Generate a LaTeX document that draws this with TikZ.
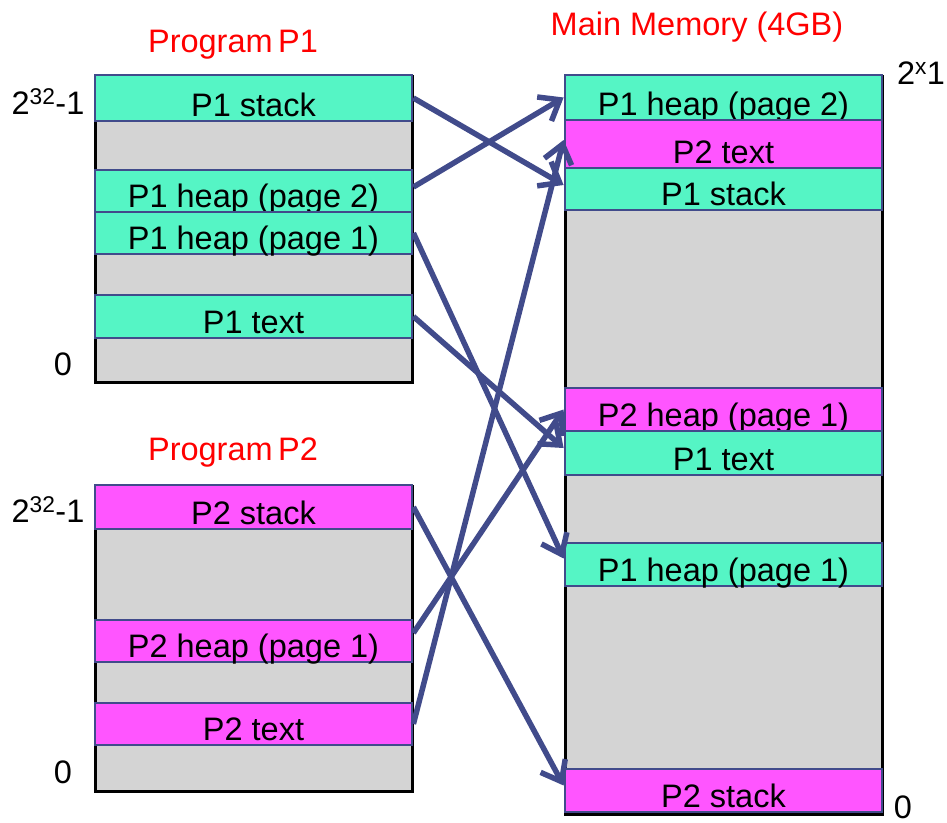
\documentclass[tikz,border=0pt]{standalone}
\usepackage{fontspec}
\setmainfont{Liberation Sans}
\usetikzlibrary{arrows.meta}

\definecolor{segteal}{HTML}{55F5C5}
\definecolor{segpink}{HTML}{FF55FF}
\definecolor{freegray}{HTML}{D4D4D4}
\definecolor{edgeblue}{HTML}{414B8B}
\definecolor{titlered}{HTML}{FF0000}

\newcommand{\bigtext}{\fontsize{32.5}{38}\selectfont}

\tikzset{
  cell/.style={draw=edgeblue, line width=2.8pt, rectangle, inner sep=0pt,
               minimum width=317pt},
  lbl/.style={anchor=base, yshift=6pt, inner sep=0pt, font=\bigtext},
  tcell/.style={cell, fill=segteal},
  pcell/.style={cell, fill=segpink},
  title/.style={anchor=base, inner sep=0pt, text=titlered, font=\bigtext},
  addr/.style={anchor=base, inner sep=0pt, font=\bigtext},
  column/.style={fill=freegray},
  colside/.style={draw=black, line width=3pt},
  map/.style={draw=edgeblue, line width=5.5pt,
              -{Straight Barb[length=18pt,width=28pt]}},
}

\begin{document}
\begin{tikzpicture}[x=1pt,y=-1pt]
\useasboundingbox (0,0) rectangle (947,822);

% ---- free space of the three address ranges
\fill[column] (95,75) rectangle (412,382);
\draw[colside] (95,75) -- (95,382) -- (412,382) -- (412,75);
\fill[column] (95,485) rectangle (412,791);
\draw[colside] (95,485) -- (95,791) -- (412,791) -- (412,485);
\fill[column] (565,75) rectangle (882,814);
\draw[colside] (565,75) -- (565,814) -- (882,814) -- (882,75);

% ---- titles and address marks
\node[title] (t1) at (233,52) {Program\,P1};
\node[title] (t2) at (233,460) {Program\,P2};
\node[title] (tm) at (697,35) {Main Memory (4GB)};

\node[addr] (a1hi) at (48,114) {2\textsuperscript{32}-1};
\node[addr] (a1lo) at (63,375) {0};
\node[addr] (a2hi) at (48,522) {2\textsuperscript{32}-1};
\node[addr] (a2lo) at (63,783) {0};
\node[addr] (amhi) at (921,84) {2\textsuperscript{x}1};
\node[addr] (amlo) at (903,818) {0};

% ---- program P1 address space
\node[tcell, minimum height=46pt, label={[lbl]south:P1 stack}] (p1stack) at (253.5,98) {};
\node[tcell, minimum height=42pt, label={[lbl]south:P1 heap (page 2)}] (p1heapB) at (253.5,191) {};
\node[tcell, minimum height=42pt, label={[lbl]south:P1 heap (page 1)}] (p1heapA) at (253.5,233) {};
\node[tcell, minimum height=43pt, label={[lbl]south:P1 text}] (p1text) at (253.5,316.5) {};

% ---- program P2 address space
\node[pcell, minimum height=44pt, label={[lbl]south:P2 stack}] (p2stack) at (253.5,507) {};
\node[pcell, minimum height=42pt, label={[lbl]south:P2 heap (page 1)}] (p2heap) at (253.5,641) {};
\node[pcell, minimum height=42pt, label={[lbl]south:P2 text}] (p2text) at (253.5,724) {};

% ---- physical memory frames
\node[tcell, minimum height=45pt, label={[lbl]south:P1 heap (page 2)}] (mP1heapB) at (723.5,97.5) {};
\node[pcell, minimum height=48pt, label={[lbl]south:P2 text}] (mP2text) at (723.5,144) {};
\node[tcell, minimum height=42pt, label={[lbl]south:P1 stack}] (mP1stack) at (723.5,189) {};
\node[pcell, minimum height=43pt, label={[lbl]south:P2 heap (page 1)}] (mP2heap) at (723.5,409.5) {};
\node[tcell, minimum height=44pt, label={[lbl]south:P1 text}] (mP1text) at (723.5,453) {};
\node[tcell, minimum height=43pt, label={[lbl]south:P1 heap (page 1)}] (mP1heapA) at (723.5,564.5) {};
\node[pcell, minimum height=43pt, label={[lbl]south:P2 stack}] (mP2stack) at (723.5,790.5) {};

% ---- page mappings
\draw[map] (p1stack.east) -- ([yshift=4pt]mP1stack.west);
\draw[map] ([yshift=4pt]p1heapB.east) -- (mP1heapB.west);
\draw[map] (p1heapA.east) -- ([yshift=6pt]mP1heapA.west);
\draw[map] (p1text.east) -- ([yshift=5pt]mP1text.west);
\draw[map] (p2stack.east) -- ([yshift=5pt]mP2stack.west);
\draw[map] ([yshift=8pt]p2heap.east) -- (mP2heap.west);
\draw[map] (p2text.east) -- ([yshift=4pt]mP2text.west);
\end{tikzpicture}
\end{document}
